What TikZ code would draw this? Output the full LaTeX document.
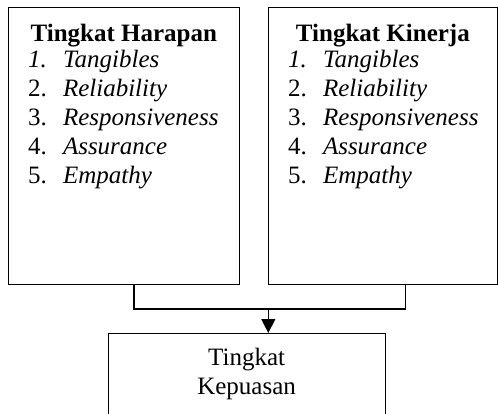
\documentclass[tikz,border=0pt]{standalone}
\usepackage{fontspec}
\setmainfont{Liberation Serif}
\usetikzlibrary{positioning, arrows.meta}
\newcommand{\butir}[2]{\makebox[17.5pt][l]{#1}\textit{#2}}
\begin{document}
\begin{tikzpicture}[x=0.5pt, y=0.5pt, line width=0.6pt, main/.style = {draw, rectangle, inner sep=0pt}, txt/.style = {inner sep=0pt, font=\fontsize{12.5}{14.5}\selectfont}, judul/.style = {inner sep=0pt, font=\fontsize{12.5}{14.5}\selectfont\bfseries}]
            \useasboundingbox (0,0) rectangle (498,413);
            \node[main, minimum width=115.5pt, minimum height=138.4pt] (1) at (123.8,267.1) {};
            \node[main, minimum width=114.6pt, minimum height=138.4pt] (2) at (382.9,267.1) {};
            \node[main, minimum width=138.5pt, minimum height=50pt, anchor=north] (3) at (246.6,80) {};
            \node[judul, anchor=base] (1a) at ([yshift=-17.4pt]1.north) {Tingkat Harapan};
            \node[judul, anchor=base] (2a) at ([yshift=-17.4pt]2.north) {Tingkat Kinerja};
            \node[txt, anchor=base west] (1b) at ([xshift=9.85pt, yshift=-30.4pt]1.north west) {\begin{tabular}[t]{@{}l@{}}\butir{\textit{1.}}{Tangibles}\\ \butir{2.}{Reliability}\\ \butir{3.}{Responsiveness}\\ \butir{4.}{Assurance}\\ \butir{5.}{Empathy}\end{tabular}};
            \node[txt, anchor=base west] (2b) at ([xshift=9.85pt, yshift=-30.4pt]2.north west) {\begin{tabular}[t]{@{}l@{}}\butir{\textit{1.}}{Tangibles}\\ \butir{2.}{Reliability}\\ \butir{3.}{Responsiveness}\\ \butir{4.}{Assurance}\\ \butir{5.}{Empathy}\end{tabular}};
            \node[inner sep=0pt, anchor=base, font=\fontsize{12.5}{15}\selectfont] (3a) at ([yshift=-16pt]3.north) {\begin{tabular}[t]{@{}c@{}}Tingkat\\Kepuasan\end{tabular}};
            \coordinate (j) at (268.3,104.7);
            \draw ([xshift=5.1pt]1.south) -- ++(0,-12pt) -| ([xshift=11.1pt]2.south);
            \draw[-{Triangle[length=7pt, width=7pt]}] (j) -- (j |- 3.north);
        \end{tikzpicture}
\end{document}
